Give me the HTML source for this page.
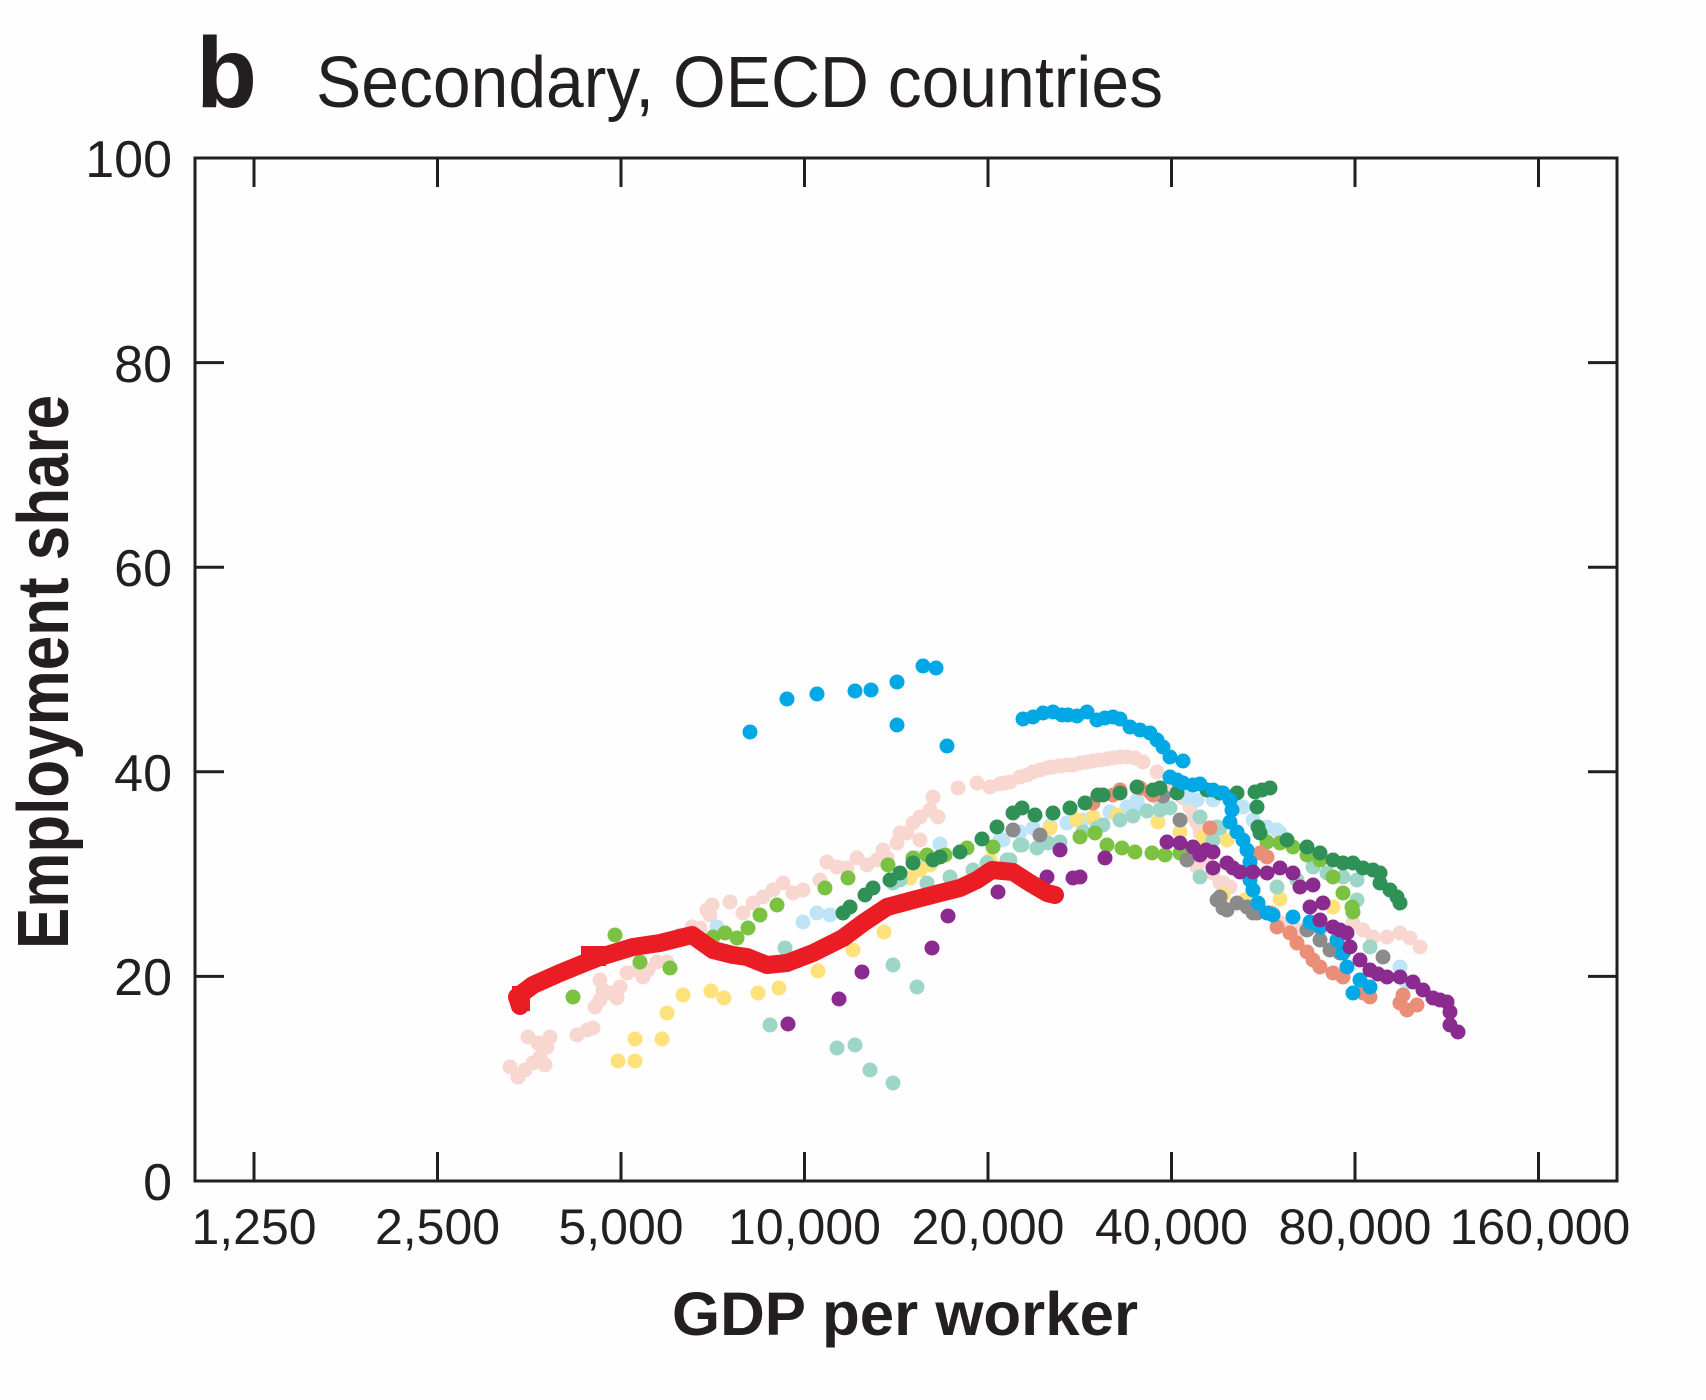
<!DOCTYPE html>
<html><head><meta charset="utf-8"><style>
html,body{margin:0;padding:0;background:#fefefe;}
svg{display:block;}
text{font-family:"Liberation Sans",sans-serif;fill:#231f20;}
</style></head><body>
<svg width="1706" height="1400" viewBox="0 0 1706 1400" xmlns="http://www.w3.org/2000/svg">
<rect width="1706" height="1400" fill="#fefefe"/>
<text x="196" y="107" font-size="100" font-weight="bold">b</text>
<text x="316" y="107" font-size="72" textLength="847" lengthAdjust="spacingAndGlyphs">Secondary, OECD countries</text>
<g fill="none" stroke-linecap="round" stroke-width="15">
<path stroke="#f8d7d1" d="M510 1067h0M518 1077h0M528 1037h0M533 1063h0M540 1057h0M547 1047h0M550 1037h0M538 1043h0M525 1070h0M545 1065h0M577 1035h0M587 1030h0M593 1028h0M595 1007h0M600 1000h0M603 990h0M610 993h0M620 987h0M617 998h0M600 980h0M627 973h0M637 970h0M643 977h0M648 970h0M667 962h0M657 962h0M692 927h0M700 928h0M707 910h0M712 905h0M710 915h0M730 902h0M743 913h0M753 903h0M763 897h0M773 890h0M783 883h0M793 893h0M803 890h0M820 880h0M827 862h0M837 867h0M847 868h0M857 858h0M867 865h0M877 860h0M883 850h0M887 858h0M897 843h0M900 833h0M907 833h0M913 823h0M920 817h0M930 810h0M933 797h0M938 817h0M920 840h0M958 788h0M977 783h0M990 787h0M1000 784h0M1010 782h0M1020 777h0M1033 772h0M1047 768h0M1060 766h0M1073 765h0M1087 762h0M1100 760h0M1113 758h0M1127 757h0M1135 758h0M1143 762h0M1157 772h0M1170 783h0M1177 790h0M1183 798h0M1190 807h0M1193 817h0M1197 823h0M1200 833h0M1203 847h0M1207 860h0M1213 873h0M1220 883h0M1230 887h0M1197 867h0M1223 883h0M1273 913h0M1280 923h0M1290 927h0M1300 930h0M1353 923h0M1363 930h0M1373 937h0M1387 937h0M1400 933h0M1410 938h0M1420 947h0M1005 783h0M1027 775h0M1040 770h0M1053 767h0M1067 765h0M1080 763h0M1093 761h0M1107 759h0M1120 757h0"/>
<path stroke="#bfe4f7" d="M680 935h0M717 927h0M803 922h0M817 913h0M830 915h0M843 913h0M917 858h0M940 844h0M1000 840h0M1003 840h0M1020 832h0M1033 828h0M1050 826h0M1067 823h0M1083 820h0M1093 818h0M1110 812h0M1127 807h0M1137 800h0M1140 808h0M1160 800h0M1187 797h0M1197 800h0M1213 800h0M1233 803h0M1243 807h0M1253 820h0M1267 827h0M1277 830h0M1280 833h0M1320 930h0M1400 967h0M1407 983h0"/>
<path stroke="#fde17b" d="M618 1061h0M635 1061h0M635 1039h0M662 1039h0M667 1013h0M683 995h0M711 991h0M724 998h0M758 993h0M779 988h0M818 971h0M853 950h0M884 932h0M910 878h0M920 870h0M930 865h0M990 860h0M1050 828h0M1077 820h0M1093 817h0M1117 815h0M1158 822h0M1180 832h0M1203 837h0M1227 840h0M1223 895h0M1245 900h0M1280 899h0M1333 907h0"/>
<path stroke="#9dd5c6" d="M770 1025h0M785 948h0M837 1048h0M855 1045h0M870 1070h0M893 1083h0M893 965h0M917 987h0M893 883h0M900 880h0M927 883h0M950 877h0M973 870h0M987 863h0M1007 860h0M1010 860h0M1020 845h0M1022 845h0M1037 848h0M1048 843h0M1060 842h0M1083 832h0M1097 828h0M1103 825h0M1120 820h0M1133 816h0M1147 811h0M1160 810h0M1170 808h0M1200 817h0M1217 827h0M1213 840h0M1220 828h0M1200 877h0M1277 887h0M1297 880h0M1313 867h0M1327 873h0M1343 877h0M1357 880h0M1357 900h0M1370 947h0"/>
<path stroke="#7cc242" d="M573 997h0M615 935h0M640 962h0M670 968h0M713 937h0M725 933h0M737 938h0M748 928h0M760 915h0M777 905h0M825 888h0M848 878h0M888 865h0M913 858h0M927 855h0M945 855h0M967 848h0M993 847h0M1080 837h0M1095 833h0M1107 845h0M1122 848h0M1135 852h0M1152 853h0M1165 855h0M1180 853h0M1187 850h0M1267 842h0M1280 843h0M1293 847h0M1307 855h0M1320 860h0M1333 877h0M1343 893h0M1352 907h0M1353 912h0"/>
<path stroke="#8b8b8b" d="M1013 830h0M1040 835h0M1163 796h0M1180 820h0M1187 860h0M1217 900h0M1223 908h0M1237 903h0M1253 913h0M1220 897h0M1227 910h0M1247 907h0M1257 913h0M1307 930h0M1320 940h0M1330 950h0M1340 953h0M1383 957h0"/>
<path stroke="#e98f77" d="M1093 803h0M1113 795h0M1120 790h0M1140 788h0M1150 792h0M1153 795h0M1210 828h0M1260 853h0M1267 857h0M1270 913h0M1277 927h0M1290 933h0M1297 943h0M1307 952h0M1313 960h0M1320 967h0M1333 973h0M1343 977h0M1363 993h0M1370 997h0M1400 1003h0M1407 1010h0M1417 1005h0M1403 995h0"/>
<path stroke="#2f9156" d="M843 913h0M850 907h0M865 895h0M873 888h0M890 880h0M900 873h0M913 863h0M933 860h0M940 857h0M960 852h0M982 839h0M997 827h0M1013 813h0M1022 808h0M1035 815h0M1053 813h0M1070 808h0M1085 803h0M1098 795h0M1103 795h0M1120 793h0M1137 787h0M1153 790h0M1160 788h0M1177 793h0M1207 790h0M1220 793h0M1237 793h0M1255 792h0M1262 790h0M1270 788h0M1257 807h0M1258 827h0M1260 833h0M1287 840h0M1307 847h0M1320 853h0M1333 860h0M1343 863h0M1353 863h0M1363 868h0M1373 870h0M1380 873h0M1380 883h0M1390 890h0M1397 897h0M1400 903h0"/>
<path stroke="#00a8e6" d="M750 732h0M787 699h0M817 694h0M855 691h0M871 690h0M897 682h0M897 725h0M923 666h0M936 668h0M947 746h0M1023 719h0M1033 717h0M1043 713h0M1053 712h0M1062 715h0M1077 716h0M1087 712h0M1097 720h0M1113 717h0M1120 719h0M1130 727h0M1140 730h0M1150 733h0M1157 740h0M1163 747h0M1170 757h0M1183 761h0M1170 777h0M1183 783h0M1193 785h0M1200 784h0M1213 790h0M1223 793h0M1230 800h0M1232 810h0M1230 822h0M1237 832h0M1243 840h0M1247 850h0M1250 862h0M1250 880h0M1253 890h0M1258 903h0M1267 913h0M1273 915h0M1293 917h0M1310 922h0M1320 927h0M1337 940h0M1343 953h0M1347 967h0M1360 980h0M1370 987h0M1353 993h0M1068 715h0M1105 718h0M1177 780h0"/>
<path stroke="#8c2b8f" d="M788 1024h0M839 999h0M862 972h0M932 948h0M948 916h0M998 892h0M1047 877h0M1073 878h0M1060 850h0M1105 858h0M1080 877h0M1167 842h0M1180 843h0M1193 847h0M1200 855h0M1213 852h0M1213 868h0M1227 863h0M1240 872h0M1253 872h0M1267 873h0M1280 868h0M1293 873h0M1300 887h0M1313 885h0M1310 907h0M1323 903h0M1320 920h0M1333 927h0M1347 933h0M1350 947h0M1360 960h0M1370 970h0M1387 977h0M1400 977h0M1413 982h0M1423 990h0M1433 998h0M1447 1002h0M1450 1012h0M1450 1025h0M1458 1032h0M1206 850h0M1233 868h0M1340 930h0M1378 974h0M1440 1000h0"/>
</g>
<path fill="none" stroke="#ea1c24" stroke-width="18" stroke-linejoin="round" stroke-linecap="round" d="M520 1006 L517 997 L533 985 L560 973 L587 962 L600 957 L633 947 L660 943 L692 935 L713 950 L733 955 L747 957 L767 965 L787 963 L813 953 L843 938 L863 923 L887 907 L913 900 L940 893 L960 888 L977 880 L992 870 L1013 872 L1030 883 L1047 893 L1055 895"/>
<rect x="512" y="986" width="18" height="25" fill="#ea1c24"/>
<rect x="581" y="946" width="25" height="20" fill="#ea1c24"/>
<g stroke="#231f20" stroke-width="3" fill="none">
<rect x="195" y="158" width="1422" height="1023"/>
<path d="M254 1181v-29M437.5 1181v-29M621 1181v-29M804.5 1181v-29M988 1181v-29M1171.5 1181v-29M1355 1181v-29M1538.5 1181v-29"/>
<path d="M254 158v29M437.5 158v29M621 158v29M804.5 158v29M988 158v29M1171.5 158v29M1355 158v29M1538.5 158v29"/>
<path d="M195 976.4h29M195 771.8h29M195 567.2h29M195 362.6h29"/>
<path d="M1617 976.4h-29M1617 771.8h-29M1617 567.2h-29M1617 362.6h-29"/>
</g>
<g font-size="52" text-anchor="end">
<text x="172" y="1200">0</text>
<text x="172" y="995">20</text>
<text x="172" y="791">40</text>
<text x="172" y="586">60</text>
<text x="172" y="382">80</text>
<text x="172" y="177">100</text>
</g>
<g font-size="50" text-anchor="middle">
<text x="254" y="1244">1,250</text>
<text x="437.5" y="1244">2,500</text>
<text x="621" y="1244">5,000</text>
<text x="804.5" y="1244">10,000</text>
<text x="988" y="1244">20,000</text>
<text x="1171.5" y="1244">40,000</text>
<text x="1355" y="1244">80,000</text>
<text x="1540" y="1244">160,000</text>
</g>
<text x="905" y="1335" font-size="61" font-weight="bold" text-anchor="middle" textLength="466" lengthAdjust="spacingAndGlyphs">GDP per worker</text>
<text transform="translate(68,672) rotate(-90)" x="0" y="0" font-size="72" font-weight="bold" text-anchor="middle" textLength="554" lengthAdjust="spacingAndGlyphs">Employment share</text>
</svg>
</body></html>
